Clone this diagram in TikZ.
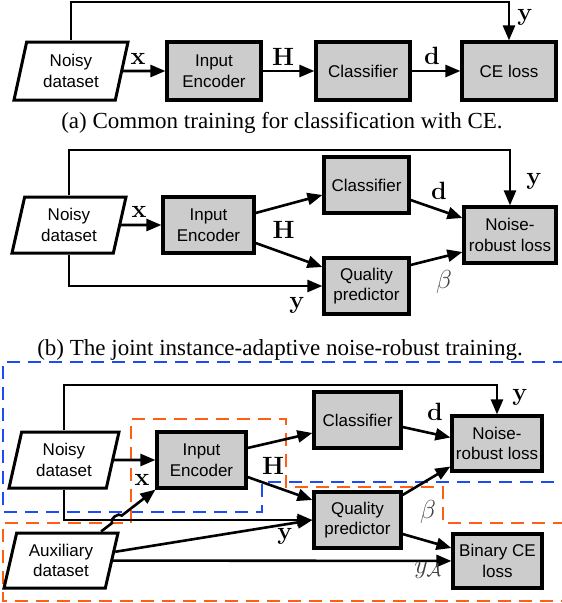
\RequirePackage{fix-cm}
\documentclass[tikz,border=0pt]{standalone}
\usepackage[no-math]{fontspec}
\setmainfont{Liberation Serif}
\setsansfont{Liberation Sans}
\usetikzlibrary{arrows.meta,shapes.geometric,calc}
\definecolor{boxgray}{RGB}{204,204,204}
\definecolor{dashblue}{RGB}{30,75,250}
\definecolor{dashorange}{RGB}{255,95,20}
\begin{document}
\begin{tikzpicture}[x=1pt,y=-1pt,
  box/.style={draw,line width=3.2pt,fill=boxgray,inner sep=0pt,align=center,
    font=\sffamily\fontsize{17}{20.5}\selectfont},
  datapara/.style={trapezium,trapezium left angle=69,trapezium right angle=111,
    trapezium stretches body,draw,line width=3pt,fill=white,inner sep=0pt,align=center,
    font=\sffamily\fontsize{17}{20.5}\selectfont},
  arr/.style={line width=2.6pt,-{Triangle[length=15pt,width=12pt]}},
  lab/.style={inner sep=0pt,font=\fontsize{25}{29}\selectfont},
  glab/.style={inner sep=0pt,text=black!75,font=\fontsize{26}{30}\selectfont},
  captext/.style={inner sep=0pt,font=\rmfamily\fontsize{23}{27}\selectfont},
  bdash/.style={draw=dashblue,line width=2.9pt,dash pattern=on 13pt off 8pt},
  odash/.style={draw=dashorange,line width=2.9pt,dash pattern=on 13pt off 8pt}]
\useasboundingbox (0,0) rectangle (562,603);

% ---------------- panel (a)
\node[datapara,minimum width=114,minimum height=58] (pa) at (71,71) {Noisy\\dataset};
\node[box,minimum width=94,minimum height=58] (ea) at (214,71) {Input\\Encoder};
\node[box,minimum width=94,minimum height=58] (ca) at (363,71) {Classifier};
\node[box,minimum width=94,minimum height=58] (la) at (509,71) {CE loss};
\coordinate (ta) at (0,2);
\draw[arr] (pa) -- (ea);
\draw[arr] (ea) -- (ca);
\draw[arr] (ca) -- (la);
\draw[arr] (pa.north) |- (ta -| la.north) -- (la.north);
\node[lab] (xa) at (138,59) {$\mathbf{x}$};
\node[lab] (ha) at (283,57) {$\mathbf{H}$};
\node[lab] (da) at (432,56) {$\mathbf{d}$};
\node[lab] (ya) at (525,17) {$\mathbf{y}$};
\node[captext] (capa) at (282,123) {(a) Common training for classification with CE.};

% ---------------- panel (b)
\node[datapara,minimum width=114,minimum height=56] (pb) at (69,225) {Noisy\\dataset};
\node[box,minimum width=91,minimum height=56] (eb) at (208.5,225) {Input\\Encoder};
\node[box,minimum width=85,minimum height=56] (cb) at (366.5,185) {Classifier};
\node[box,minimum width=85,minimum height=56] (qb) at (366.5,286) {Quality\\predictor};
\node[box,minimum width=92,minimum height=56] (nb) at (510,235) {Noise-\\robust loss};
\coordinate (tb) at (0,150);
\draw[arr] (pb) -- (eb);
\draw[arr] ([yshift=12pt]eb.east) -- ([yshift=-10pt]cb.west);
\draw[arr] ([yshift=-18pt]eb.east) -- ([yshift=19pt]qb.west);
\draw[arr] ([yshift=-15pt]cb.east) -- ([yshift=17pt]nb.west);
\draw[arr] ([yshift=21pt]qb.east) -- ([yshift=-17pt]nb.west);
\draw[arr] (pb.north) |- (tb -| nb.north) -- (nb.north);
\draw[arr] (pb.south) |- (qb.west);
\node[lab] (xb) at (139,212) {$\mathbf{x}$};
\node[lab] (hb) at (283.5,230) {$\mathbf{H}$};
\node[lab] (db) at (439,191) {$\mathbf{d}$};
\node[lab] (yb) at (534,181) {$\mathbf{y}$};
\node[lab] (yb2) at (297,305) {$\mathbf{y}$};
\node[glab] (bb2) at (444,282) {$\beta$};
\node[captext] (capb) at (280,350) {(b) The joint instance-adaptive noise-robust training.};

% ---------------- panel (c)
\draw[bdash] (566,362) -- (3,362) -- (3,512) -- (262,512) -- (262,482) -- (566,482);
\draw[odash] (566,523) -- (443,523) -- (443,487) -- (286,487) -- (286,419) -- (131,419)
  -- (131,523) -- (3,523) -- (3,601) -- (566,601);

\node[datapara,minimum width=110,minimum height=56] (pc) at (64,460) {Noisy\\dataset};
\node[datapara,minimum width=114,minimum height=55] (ac) at (61,560.5) {Auxiliary\\dataset};
\node[box,minimum width=89,minimum height=56] (ec) at (201.5,460) {Input\\Encoder};
\node[box,minimum width=87,minimum height=56] (cc) at (357.5,420) {Classifier};
\node[box,minimum width=87,minimum height=56] (qc) at (357.5,520) {Quality\\predictor};
\node[box,minimum width=90,minimum height=55] (nc) at (497,443.5) {Noise-\\robust loss};
\node[box,minimum width=89,minimum height=54] (bc) at (497.5,561) {Binary CE\\loss};
\coordinate (tc) at (0,385);
\coordinate (sc) at ($(ac.top right corner)!0.18!(ac.top left corner)$);
\draw[arr] (pc) -- (ec);
\draw[arr] ([yshift=12pt]ec.east) -- ([yshift=-13pt]cc.west);
\draw[arr] ([yshift=-17pt]ec.east) -- ([yshift=20pt]qc.west);
\draw[arr] ([yshift=-7pt]cc.east) -- ([yshift=6pt]nc.west);
\draw[arr] ([yshift=25pt]qc.east) -- ([yshift=-23pt]nc.west);
\draw[arr] ([yshift=-14pt]qc.east) -- ([yshift=13pt]bc.west);
\draw[arr] (pc.north) |- (tc -| nc.north) -- (nc.north);
\draw[arr] (pc.south) |- (qc.west);
\draw[arr] (ac) -- (qc.west);
\draw[arr] (ac) -- (bc);
\draw[arr] (sc) -- ($(sc)!0.2!(ec.south west)$) to[bend left=90] ($(sc)!0.38!(ec.south west)$)
  -- (ec.south west);
\node[lab] (xc) at (142,480) {$\mathbf{x}$};
\node[lab] (hc) at (273,466) {$\mathbf{H}$};
\node[lab] (dc) at (435,412) {$\mathbf{d}$};
\node[lab] (yc) at (520,397) {$\mathbf{y}$};
\node[lab] (yc2) at (285,536) {$\mathbf{y}$};
\node[glab] (bc2) at (428,512) {$\beta$};
\node[glab] (yac) at (428,570) {$y_{\mathcal{A}}$};
\end{tikzpicture}
\end{document}
